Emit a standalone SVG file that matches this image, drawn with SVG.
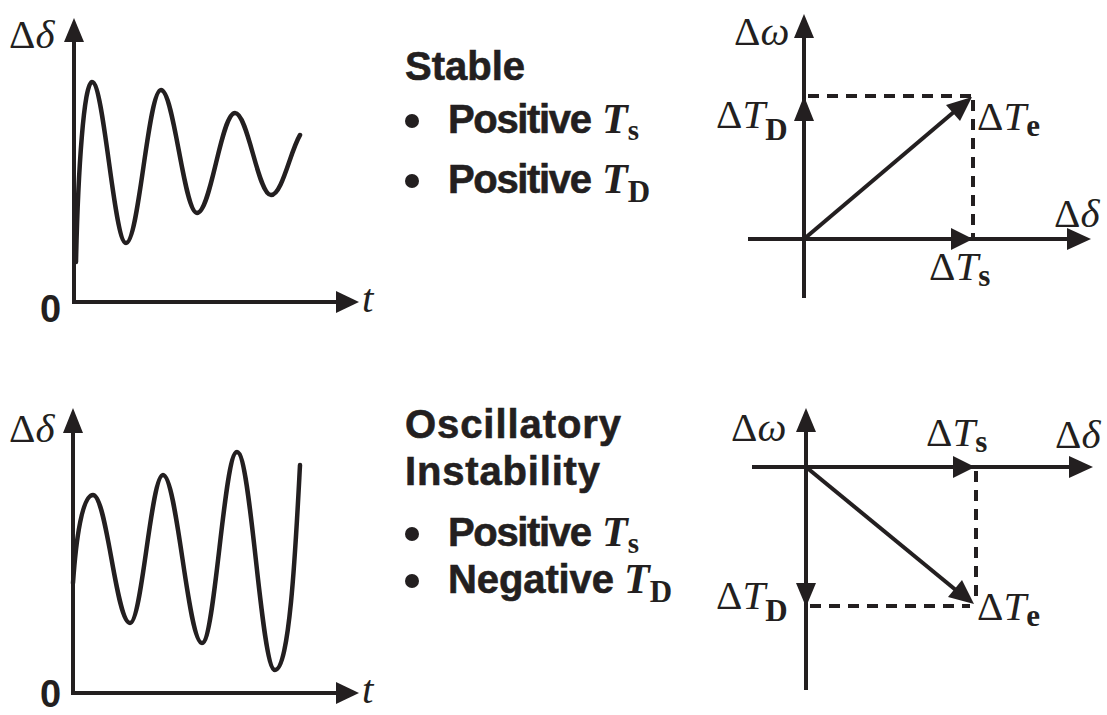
<svg xmlns="http://www.w3.org/2000/svg" width="1107" height="715" viewBox="0 0 1107 715">
<style>
.ax{stroke:#231f20;stroke-width:4;fill:none}
.cv{stroke:#231f20;stroke-width:4.5;fill:none;stroke-linecap:round}
.dash{stroke:#231f20;stroke-width:4;fill:none;stroke-dasharray:11 8}
.ah{fill:#231f20}
.m{font-family:"Liberation Serif",serif;font-size:41px;fill:#231f20}
.mi{font-style:italic}
.sb{font-weight:bold;font-style:normal;font-size:31px}
.h{font-family:"Liberation Sans",Arial,sans-serif;font-weight:bold;font-size:40px;fill:#231f20;stroke:#231f20;stroke-width:0.6}
.z{font-family:"Liberation Sans",Arial,sans-serif;font-weight:bold;font-size:38px;fill:#231f20}
.tt{font-family:"Liberation Serif",serif;font-size:42px;font-style:italic;font-weight:bold;fill:#231f20}
</style>

<g id="plot-stable-time">
<line class="ax" x1="74" y1="302" x2="74" y2="38"/>
<polygon class="ah" points="74,18 64,42 84,42"/>
<line class="ax" x1="72" y1="302" x2="340" y2="302"/>
<polygon class="ah" points="359,302 336,291 336,313"/>
<path class="cv" d="M76,262 C78,170 84,82 92,82 C104,82 114,243 126,243 C139,243 148,90 161,90 C174,90 184,213 197,213 C211,213 221,113 235,113 C248,113 258,195 271,195 C282,195 290,152 300,135"/>
<text class="m" x="9" y="48">Δ<tspan class="mi">δ</tspan></text>
<text class="z" x="40" y="322">0</text>
<text class="m mi" x="362" y="312">t</text>
</g>

<g id="plot-unstable-time">
<line class="ax" x1="73" y1="693" x2="73" y2="430"/>
<polygon class="ah" points="73,408 63,433 83,433"/>
<line class="ax" x1="71" y1="693" x2="340" y2="693"/>
<polygon class="ah" points="359,693 336,682 336,704"/>
<path class="cv" d="M73,583 C76,540 82,495 93,495 C107,495 116,623 130,623 C142,623 151,475 163,475 C177,475 188,643 202,643 C215,643 224,452 237,452 C251,452 261,670 275,670 C290,670 296,540 300,465"/>
<text class="m" x="9" y="442">Δ<tspan class="mi">δ</tspan></text>
<text class="z" x="40" y="707">0</text>
<text class="m mi" x="362" y="703">t</text>
</g>

<g id="text-stable">
<text class="h" x="405" y="80">Stable</text>
<circle class="ah" cx="412" cy="121" r="7"/>
<text class="h" x="448" y="133" textLength="144">Positive</text>
<text class="tt" x="602" y="133">T<tspan dy="7" style="font-style:normal;font-size:29px">s</tspan></text>
<circle class="ah" cx="412" cy="181" r="7"/>
<text class="h" x="448" y="193" textLength="144">Positive</text>
<text class="tt" x="602" y="193">T<tspan dy="9" style="font-style:normal;font-size:31px">D</tspan></text>
</g>

<g id="text-unstable">
<text class="h" x="405" y="438" textLength="216">Oscillatory</text>
<text class="h" x="405" y="485" textLength="195">Instability</text>
<circle class="ah" cx="412" cy="534" r="7"/>
<text class="h" x="448" y="546" textLength="144">Positive</text>
<text class="tt" x="602" y="546">T<tspan dy="7" style="font-style:normal;font-size:29px">s</tspan></text>
<circle class="ah" cx="412" cy="581" r="7"/>
<text class="h" x="448" y="593" textLength="166">Negative</text>
<text class="tt" x="624" y="593">T<tspan dy="9" style="font-style:normal;font-size:31px">D</tspan></text>
</g>

<g id="phasor-stable">
<line class="ax" x1="804" y1="298" x2="804" y2="35"/>
<polygon class="ah" points="804,14 794,38 814,38"/>
<line class="ax" x1="748" y1="239" x2="1070" y2="239"/>
<polygon class="ah" points="1091,239 1067,228 1067,250"/>
<text class="m" x="734" y="45">Δ<tspan class="mi">ω</tspan></text>
<text class="m" x="1054" y="227">Δ<tspan class="mi">δ</tspan></text>
</g>

<g id="phasor-unstable">
<line class="ax" x1="806" y1="690" x2="806" y2="430"/>
<polygon class="ah" points="806,408 796,432 816,432"/>
<line class="ax" x1="752" y1="467" x2="1072" y2="467"/>
<polygon class="ah" points="1093,467 1069,456 1069,478"/>
<text class="m" x="731" y="441">Δ<tspan class="mi">ω</tspan></text>
<text class="m" x="1055" y="448">Δ<tspan class="mi">δ</tspan></text>
</g>

<g id="connectors">
<line class="dash" x1="808" y1="96" x2="972" y2="96"/>
<line class="dash" x1="973" y1="100" x2="973" y2="237"/>
<polygon class="ah" points="804,96 794,121 814,121"/>
<polygon class="ah" points="973,239 951,228 951,250"/>
<line class="ax" x1="804" y1="239" x2="955" y2="111"/>
<polygon class="ah" points="972,97 946,105 960,121"/>
<text class="m" x="716" y="128">Δ<tspan class="mi">T</tspan><tspan class="sb" dy="12">D</tspan></text>
<text class="m" x="977" y="130">Δ<tspan class="mi">T</tspan><tspan class="sb" dy="6">e</tspan></text>
<text class="m" x="929" y="280">Δ<tspan class="mi">T</tspan><tspan class="sb" dy="6">s</tspan></text>

<line class="dash" x1="976" y1="471" x2="976" y2="604"/>
<line class="dash" x1="810" y1="606" x2="970" y2="606"/>
<polygon class="ah" points="806,607 796,583 816,583"/>
<polygon class="ah" points="975,467 953,456 953,478"/>
<line class="ax" x1="806" y1="467" x2="957" y2="591"/>
<polygon class="ah" points="974,604 948,597 962,580"/>
<text class="m" x="926" y="446">Δ<tspan class="mi">T</tspan><tspan class="sb" dy="6">s</tspan></text>
<text class="m" x="716" y="609">Δ<tspan class="mi">T</tspan><tspan class="sb" dy="12">D</tspan></text>
<text class="m" x="977" y="620">Δ<tspan class="mi">T</tspan><tspan class="sb" dy="6">e</tspan></text>
</g>
</svg>
